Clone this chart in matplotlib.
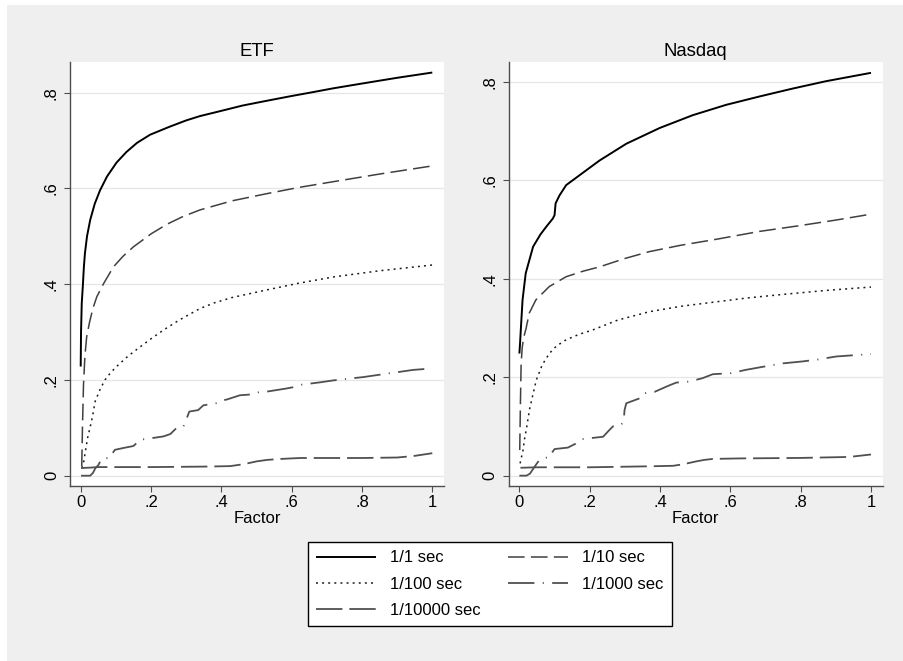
import matplotlib
matplotlib.use("Agg")
import matplotlib.pyplot as plt
from matplotlib.patches import Rectangle

# -----------------------------
# DATA
# -----------------------------
SERIES_LABELS = ["1/1 sec", "1/10 sec", "1/100 sec", "1/1000 sec", "1/10000 sec"]
PANEL_TITLES = ["ETF", "Nasdaq"]
X_TICKS = [0, 0.2, 0.4, 0.6, 0.8, 1.0]
X_TICK_LABELS = ["0", ".2", ".4", ".6", ".8", "1"]
Y_TICKS = [0, 0.2, 0.4, 0.6, 0.8]
Y_TICK_LABELS = ["0", ".2", ".4", ".6", ".8"]

# ETF panel
etf_x_1 = [0.0, 0.001, 0.003, 0.006, 0.009, 0.012, 0.018, 0.027, 0.040, 0.055, 0.075,
           0.102, 0.13, 0.16, 0.197, 0.25, 0.30, 0.339, 0.40, 0.46, 0.529, 0.60, 0.66,
           0.718, 0.80, 0.90, 1.0]
etf_y_1 = [0.228, 0.30, 0.36, 0.395, 0.435, 0.464, 0.50, 0.534, 0.568, 0.596, 0.625,
           0.654, 0.676, 0.695, 0.712, 0.728, 0.742, 0.751, 0.762, 0.773, 0.783, 0.793, 0.801,
           0.809, 0.819, 0.831, 0.842]

etf_x_10 = [0.003, 0.005, 0.008, 0.012, 0.017, 0.025, 0.035, 0.046, 0.065, 0.093, 0.12,
            0.150, 0.20, 0.245, 0.29, 0.339, 0.43, 0.529, 0.62, 0.718, 0.85, 1.0]
etf_y_10 = [0.02, 0.10, 0.19, 0.25, 0.29, 0.32, 0.35, 0.374, 0.401, 0.436, 0.458,
            0.478, 0.505, 0.525, 0.541, 0.555, 0.574, 0.589, 0.602, 0.614, 0.630, 0.647]

etf_x_100 = [0.003, 0.008, 0.014, 0.020, 0.027, 0.034, 0.041, 0.055, 0.069, 0.085, 0.102,
             0.135, 0.169, 0.20, 0.235, 0.28, 0.339, 0.38, 0.43, 0.529, 0.62, 0.718, 0.85, 1.0]
etf_y_100 = [0.016, 0.026, 0.054, 0.08, 0.102, 0.125, 0.155, 0.18, 0.200, 0.215, 0.228,
             0.25, 0.269, 0.286, 0.304, 0.325, 0.349, 0.361, 0.372, 0.388, 0.402, 0.415,
             0.428, 0.440]

etf_x_1000 = [0.001, 0.027, 0.035, 0.042, 0.05, 0.06, 0.083, 0.090, 0.097, 0.122, 0.150,
              0.169, 0.198, 0.235, 0.255, 0.273, 0.292, 0.300, 0.309, 0.334, 0.349, 0.391,
              0.401, 0.415, 0.453, 0.491, 0.505, 0.524, 0.584, 0.613, 0.627, 0.681, 0.718,
              0.804, 0.851, 0.908, 0.946, 1.0]
etf_y_1000 = [0.0, 0.0, 0.006, 0.016, 0.022, 0.036, 0.037, 0.046, 0.054, 0.058, 0.062,
              0.075, 0.078, 0.082, 0.087, 0.100, 0.102, 0.117, 0.134, 0.137, 0.147, 0.152,
              0.157, 0.159, 0.168, 0.170, 0.174, 0.175, 0.182, 0.186, 0.190, 0.195, 0.199,
              0.206, 0.211, 0.217, 0.221, 0.224]

etf_x_10000 = [0.001, 0.03, 0.05, 0.197, 0.35, 0.425, 0.463, 0.501, 0.530, 0.568, 0.625,
               0.80, 0.90, 0.946, 1.0]
etf_y_10000 = [0.016, 0.017, 0.018, 0.018, 0.019, 0.020, 0.024, 0.030, 0.033, 0.035, 0.037,
               0.037, 0.038, 0.041, 0.047]

# Nasdaq panel
nas_x_1 = [0.0, 0.002, 0.004, 0.009, 0.018, 0.039, 0.060, 0.077, 0.095, 0.100, 0.103,
           0.114, 0.133, 0.171, 0.228, 0.304, 0.399, 0.493, 0.588, 0.683, 0.777, 0.872, 1.0]
nas_y_1 = [0.248, 0.27, 0.296, 0.357, 0.411, 0.465, 0.49, 0.506, 0.522, 0.529, 0.553,
           0.569, 0.590, 0.610, 0.640, 0.674, 0.706, 0.732, 0.753, 0.770, 0.786, 0.801, 0.818]

nas_x_10 = [0.001, 0.003, 0.005, 0.008, 0.012, 0.019, 0.028, 0.047, 0.085, 0.133, 0.18,
            0.228, 0.30, 0.370, 0.46, 0.560, 0.683, 0.80, 0.90, 1.0]
nas_y_10 = [0.052, 0.15, 0.228, 0.26, 0.28, 0.299, 0.330, 0.357, 0.384, 0.404, 0.415,
            0.424, 0.441, 0.455, 0.468, 0.480, 0.496, 0.508, 0.519, 0.531]

nas_x_100 = [0.002, 0.006, 0.010, 0.014, 0.020, 0.029, 0.037, 0.048, 0.065, 0.085, 0.105,
             0.133, 0.17, 0.209, 0.28, 0.370, 0.46, 0.560, 0.65, 0.749, 0.87, 1.0]
nas_y_100 = [0.025, 0.038, 0.05, 0.072, 0.095, 0.135, 0.160, 0.194, 0.225, 0.248, 0.263,
             0.276, 0.287, 0.296, 0.316, 0.333, 0.344, 0.353, 0.361, 0.368, 0.376, 0.383]

nas_x_1000 = [0.0, 0.02, 0.03, 0.045, 0.055, 0.065, 0.086, 0.092, 0.100, 0.138, 0.160,
              0.176, 0.200, 0.238, 0.255, 0.266, 0.290, 0.297, 0.299, 0.304, 0.323, 0.342,
              0.351, 0.384, 0.422, 0.446, 0.484, 0.521, 0.550, 0.60, 0.645, 0.692, 0.749,
              0.806, 0.85, 0.901, 1.0]
nas_y_1000 = [0.0, 0.0, 0.004, 0.02, 0.03, 0.036, 0.037, 0.046, 0.054, 0.057, 0.065,
              0.074, 0.076, 0.079, 0.092, 0.100, 0.103, 0.113, 0.133, 0.147, 0.152, 0.157,
              0.167, 0.170, 0.182, 0.189, 0.191, 0.198, 0.206, 0.208, 0.215, 0.221, 0.228,
              0.232, 0.236, 0.242, 0.247]

nas_x_10000 = [0.003, 0.05, 0.2, 0.37, 0.437, 0.465, 0.503, 0.526, 0.550, 0.626, 0.8,
               0.938, 1.0]
nas_y_10000 = [0.016, 0.017, 0.017, 0.019, 0.020, 0.023, 0.029, 0.032, 0.034, 0.035, 0.036,
               0.038, 0.043]

panels = [
    [(etf_x_1, etf_y_1), (etf_x_10, etf_y_10), (etf_x_100, etf_y_100),
     (etf_x_1000, etf_y_1000), (etf_x_10000, etf_y_10000)],
    [(nas_x_1, nas_y_1), (nas_x_10, nas_y_10), (nas_x_100, nas_y_100),
     (nas_x_1000, nas_y_1000), (nas_x_10000, nas_y_10000)],
]
y_limits = [(-0.0215, 0.864), (-0.021, 0.840)]

# line styles (dash lengths in points, not scaled by width)
styles = [
    dict(color="black", lw=1.4, ls="-"),
    dict(color="#404040", lw=1.1, ls=(0, (12, 4.5))),
    dict(color="#1a1a1a", lw=1.1, ls=(0, (1.4, 3.0))),
    dict(color="#505050", lw=1.3, ls=(0, (19, 6, 0.8, 6))),
    dict(color="#505050", lw=1.3, ls=(0, (19, 5))),
]

plt.rcParams["font.family"] = ["Liberation Sans", "DejaVu Sans"]
plt.rcParams["lines.scale_dashes"] = False

fig = plt.figure(figsize=(9.04, 6.61), dpi=100, facecolor="white")
fig.patches.append(Rectangle((7 / 904, 0), 1 - 7 / 904, 1 - 5 / 661,
                             transform=fig.transFigure, facecolor="#efefef",
                             edgecolor="none", zorder=-10))

axes_left = [70 / 904, 508.7 / 904]
ax_w = 374 / 904
ax_b = (661 - 486) / 661
ax_h = (486 - 62) / 661

handles = []
for p in range(2):
    ax = fig.add_axes([axes_left[p], ax_b, ax_w, ax_h])
    ax.set_facecolor("white")
    for s, (xs, ys) in enumerate(panels[p]):
        ln, = ax.plot(xs, ys, solid_capstyle="butt", dash_capstyle="butt",
                      solid_joinstyle="round", **styles[s])
        if p == 0:
            handles.append(ln)
    ax.set_xlim(-0.0304, 1.0333)
    ax.set_ylim(*y_limits[p])
    ax.set_xticks(X_TICKS)
    ax.set_xticklabels(X_TICK_LABELS)
    ax.set_yticks(Y_TICKS)
    ax.set_yticklabels(Y_TICK_LABELS, rotation=90, va="center")
    ax.grid(axis="y", color="#e6e6e6", lw=0.9)
    ax.set_axisbelow(True)
    for side in ["top", "right"]:
        ax.spines[side].set_visible(False)
    for side in ["left", "bottom"]:
        ax.spines[side].set_color("#4d4d4d")
        ax.spines[side].set_linewidth(1.0)
    ax.tick_params(direction="out", length=4.5, width=0.8, color="#4d4d4d",
                   labelsize=12, labelcolor="black")
    ax.tick_params(axis="x", pad=2)
    ax.tick_params(axis="y", pad=3.5)
    ax.set_xlabel("Factor", fontsize=12, labelpad=1)
    ax.set_title(PANEL_TITLES[p], fontsize=13.3, pad=4)

# legend: column-major fill so rows read 1/1,1/10 / 1/100,1/1000 / 1/10000
order = [0, 2, 4, 1, 3]
leg = fig.legend([handles[i] for i in order], [SERIES_LABELS[i] for i in order],
                 ncol=2, loc="upper left", bbox_to_anchor=(308 / 904, 1 - 542 / 661),
                 fontsize=12, frameon=True, fancybox=False, framealpha=1,
                 handlelength=3.6, handletextpad=0.85, columnspacing=1.6,
                 labelspacing=0.68, borderpad=0.5, borderaxespad=0)
leg.get_frame().set_edgecolor("black")
leg.get_frame().set_linewidth(1.0)
leg.get_frame().set_facecolor("white")

fig.savefig("out.png", dpi=100, facecolor=fig.get_facecolor())
